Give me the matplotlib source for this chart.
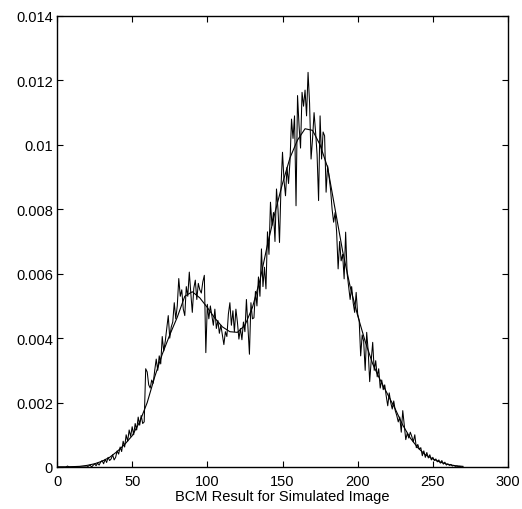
import numpy as np
import matplotlib
matplotlib.use("Agg")
import matplotlib.pyplot as plt

# values, in units of 1e-3
# noisy histogram, one value per integer bin x = 0..270
hist_vals = [
    0, 0, 0, 0, 0, 0, 0, 0.03, 0, 0,
    0, 0, 0, 0, 0, 0, 0, 0, 0, 0,
    0.0, 0.03, 0.06, 0.0, 0.05, 0.1, 0.04, 0.12, 0.06, 0.15,
    0.2, 0.1, 0.24, 0.14, 0.3, 0.2, 0.25, 0.38, 0.22, 0.3,
    0.5, 0.4, 0.62, 0.48, 0.8, 0.62, 1.0, 0.8, 1.15, 0.95,
    1.25, 1.0, 1.35, 1.15, 1.55, 1.3, 1.6, 1.35, 1.4, 3.05,
    2.95, 2.55, 2.45, 2.7, 2.6, 3.0, 3.35, 3.0, 3.45, 3.2,
    4.05, 3.6, 3.9, 4.3, 4.7, 4.0, 4.35, 4.5, 5.1, 4.6,
    5.0, 5.85, 5.3, 5.5, 4.9, 4.7, 5.6, 5.3, 6.05, 5.4,
    4.8, 5.55, 5.8, 5.2, 5.7, 5.5, 5.4, 5.75, 5.95, 3.55,
    5.05, 4.6, 5.0, 4.7, 4.4, 4.9, 4.3, 4.55, 4.15, 4.4,
    4.1, 3.8, 4.2, 4.05, 4.75, 5.1, 4.4, 4.85, 4.2, 4.9,
    4.5, 3.97, 4.3, 3.95, 4.5, 4.2, 5.2, 4.35, 3.5, 5.1,
    4.6, 4.63, 5.45, 5.0, 5.9, 5.3, 6.77, 5.6, 6.2, 5.53,
    7.3, 6.6, 8.22, 7.5, 7.9, 7.0, 8.63, 8.0, 6.97, 8.7,
    9.77, 8.9, 8.42, 9.3, 8.8, 9.5, 10.8, 10.2, 10.9, 8.11,
    11.53, 10.6, 9.9, 11.63, 11.2, 11.7, 10.9, 12.25, 11.3, 9.56,
    10.2, 11.0, 10.4, 9.7, 8.27, 10.9, 9.56, 10.4, 10.28, 8.53,
    9.35, 9.0, 8.6, 8.0, 7.6, 7.9, 7.3, 6.15, 7.0, 6.4,
    6.6, 5.84, 7.29, 6.0, 5.6, 5.2, 5.6, 5.1, 4.8, 5.42,
    4.75, 4.55, 3.45, 4.1, 3.9, 3.0, 4.18, 3.6, 2.65, 3.3,
    3.87, 3.0, 3.3, 2.8, 3.05, 2.45, 2.7, 2.4, 2.55, 2.2,
    1.9, 2.3, 2.0, 1.8, 2.05, 1.75, 1.6, 1.4, 1.55, 1.08,
    1.75, 1.3, 0.85, 1.05, 0.9, 1.08, 0.95, 0.78, 1.0, 0.6,
    0.7, 0.55, 0.6, 0.35, 0.5, 0.3, 0.45, 0.28, 0.38, 0.22,
    0.3, 0.2, 0.25, 0.16, 0.22, 0.12, 0.2, 0.09, 0.15, 0.06,
    0.1, 0.05, 0.08, 0.03, 0.05, 0.02, 0.03, 0.01, 0.02, 0, 0,
]
hist_x = np.arange(len(hist_vals))

# smooth fitted curve, read every 5 units
fit_x = list(range(0, 275, 5))
fit_vals = [
    0, 0, 0.01, 0.02, 0.05, 0.1, 0.18, 0.3, 0.48, 0.7,
    0.97, 1.4, 2.0, 2.8, 3.5, 4.1, 4.65, 5.3, 5.44, 5.25,
    4.95, 4.62, 4.35, 4.2, 4.18, 4.4, 4.95, 5.8, 6.9, 7.9,
    8.8, 9.6, 10.15, 10.5, 10.45, 10.0, 9.3, 8.0, 6.7, 5.6,
    4.7, 3.9, 3.2, 2.7, 2.25, 1.8, 1.3, 0.9, 0.6, 0.38,
    0.25, 0.15, 0.08, 0.04, 0.02,
]

x_ticks = [0, 50, 100, 150, 200, 250, 300]
y_ticks = [0, 0.002, 0.004, 0.006, 0.008, 0.01, 0.012, 0.014]
y_ticklabels = ['0', '0.002', '0.004', '0.006', '0.008', '0.01', '0.012', '0.014']

plt.rcParams['font.family'] = ['Liberation Sans', 'DejaVu Sans']

fig = plt.figure(figsize=(5.22, 5.10), dpi=100)
ax = fig.add_axes([57/522, 1 - 468/510, 451/522, 451/510])

ax.plot(hist_x, np.array(hist_vals) * 1e-3, color='black', linewidth=0.75)
ax.plot(fit_x, np.array(fit_vals) * 1e-3, color='black', linewidth=0.8)

ax.set_xlim(0, 300)
ax.set_ylim(0, 0.014)
ax.set_xticks(x_ticks)
ax.set_xticklabels([str(t) for t in x_ticks])
ax.set_yticks(y_ticks)
ax.set_yticklabels(y_ticklabels)
ax.tick_params(direction='in', length=4, width=0.8, top=True, right=True,
               labelsize=10.5, pad=3, colors='black')
ax.tick_params(axis='x', pad=5)
for s in ax.spines.values():
    s.set_linewidth(1.0)
ax.set_xlabel('BCM Result for Simulated Image', fontsize=10.5, labelpad=1)

fig.savefig('out.png', dpi=100)
